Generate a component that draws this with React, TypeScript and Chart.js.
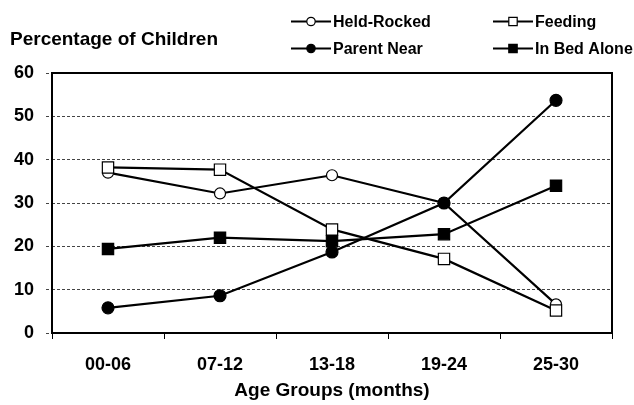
import React, { useEffect, useRef } from 'react';
import { Chart, registerables } from 'chart.js';

Chart.register(...registerables);

const categories = ['00-06', '07-12', '13-18', '19-24', '25-30'];
const heldRocked = [37.0, 32.2, 36.4, 30.0, 6.6];
const feeding = [38.2, 37.7, 23.9, 17.1, 5.2];
const parentNear = [5.8, 8.6, 18.7, 30.0, 53.7];
const inBedAlone = [19.4, 22.0, 21.2, 22.8, 34.0];
const seriesNames = ['Held-Rocked', 'Feeding', 'Parent Near', 'In Bed Alone'];
const yMin = 0;
const yMax = 60;
const yStep = 10;
const yTitle = 'Percentage of Children';
const xTitle = 'Age Groups (months)';

const FONT = "'Liberation Sans', Arial, sans-serif";

const decorPlugin = {
  id: 'decor',
  beforeDatasetsDraw(chart: any) {
    const { ctx, chartArea: a } = chart;
    ctx.save();
    ctx.strokeStyle = '#000';
    ctx.lineWidth = 2;
    ctx.setLineDash([]);
    ctx.strokeRect(a.left, a.top, a.right - a.left, a.bottom - a.top);
    ctx.restore();
  },
  afterDraw(chart: any) {
    const { ctx } = chart;
    ctx.save();
    ctx.fillStyle = '#000';
    ctx.font = `bold 19px ${FONT}`;
    ctx.textAlign = 'left';
    ctx.textBaseline = 'alphabetic';
    ctx.fillText(yTitle, 10, 45);

    const colX = [291, 493];
    const rowY = [21.5, 48.5];
    chart.data.datasets.forEach((ds: any, i: number) => {
      const x0 = colX[i % 2];
      const y = rowY[Math.floor(i / 2)];
      ctx.strokeStyle = '#000';
      ctx.lineWidth = 2;
      ctx.beginPath();
      ctx.moveTo(x0, y);
      ctx.lineTo(x0 + 40, y);
      ctx.stroke();
      const cx = x0 + 20;
      ctx.fillStyle = ds.pointBackgroundColor;
      ctx.lineWidth = 1.2;
      ctx.beginPath();
      if (ds.pointStyle === 'circle') {
        ctx.arc(cx, y, 4.2, 0, Math.PI * 2);
      } else {
        ctx.rect(cx - 4.2, y - 4.2, 8.4, 8.4);
      }
      ctx.fill();
      ctx.stroke();
      ctx.fillStyle = '#000';
      ctx.font = `bold 16px ${FONT}`;
      ctx.textBaseline = 'middle';
      ctx.fillText(ds.label, x0 + 42, y + 1);
    });
    ctx.restore();
  },
};

function makeDataset(label: string, data: number[], style: string, fill: string, radius: number, order: number) {
  return {
    label,
    data,
    order,
    borderColor: '#000',
    borderWidth: 2.2,
    pointStyle: style,
    pointRadius: radius,
    pointBackgroundColor: fill,
    pointBorderColor: '#000',
    pointBorderWidth: 1.2,
    tension: 0,
    fill: false,
  };
}

export default function App() {
  const ref = useRef<HTMLCanvasElement | null>(null);
  useEffect(() => {
    if (!ref.current) return;
    const chart = new Chart(ref.current, {
      type: 'line',
      data: {
        labels: categories,
        datasets: [
          makeDataset(seriesNames[0], heldRocked, 'circle', '#fff', 5.5, 3),
          makeDataset(seriesNames[1], feeding, 'rect', '#fff', 8, 2),
          makeDataset(seriesNames[2], parentNear, 'circle', '#000', 6, 0),
          makeDataset(seriesNames[3], inBedAlone, 'rect', '#000', 8, 1),
        ] as any,
      },
      options: {
        responsive: false,
        animation: false,
        devicePixelRatio: 1,
        layout: { padding: { top: 73, right: 22, left: 0, bottom: 0 } },
        plugins: {
          legend: { display: false },
          title: { display: false },
          tooltip: { enabled: false },
        },
        scales: {
          x: {
            type: 'category',
            offset: true,
            grid: {
              offset: true,
              drawOnChartArea: false,
              drawTicks: true,
              tickLength: 6,
              color: '#000',
              lineWidth: 1,
            },
            border: { display: false },
            ticks: {
              color: '#000',
              padding: 15,
              font: { family: FONT, size: 18, weight: 'bold' },
              maxRotation: 0,
            },
            title: {
              display: true,
              text: xTitle,
              color: '#000',
              font: { family: FONT, size: 19, weight: 'bold' },
              padding: { top: 0, bottom: 3 },
            },
            afterFit(scale: any) {
              scale.height = 72;
            },
          },
          y: {
            min: yMin,
            max: yMax,
            grid: {
              color: '#444',
              lineWidth: 1,
              tickLength: 6,
              tickColor: '#444',
              tickBorderDash: [3, 2],
            },
            border: { display: false, dash: [3, 2] },
            ticks: {
              stepSize: yStep,
              color: '#000',
              padding: 12,
              font: { family: FONT, size: 18, weight: 'bold' },
            },
            afterFit(scale: any) {
              scale.width = 52;
            },
          },
        },
      } as any,
      plugins: [decorPlugin],
    });
    return () => chart.destroy();
  }, []);

  return (
    <div style={{ position: 'fixed', left: 0, top: 0, width: 634, height: 405, background: '#fff' }}>
      <canvas ref={ref} width={634} height={405} style={{ display: 'block' }} />
    </div>
  );
}
